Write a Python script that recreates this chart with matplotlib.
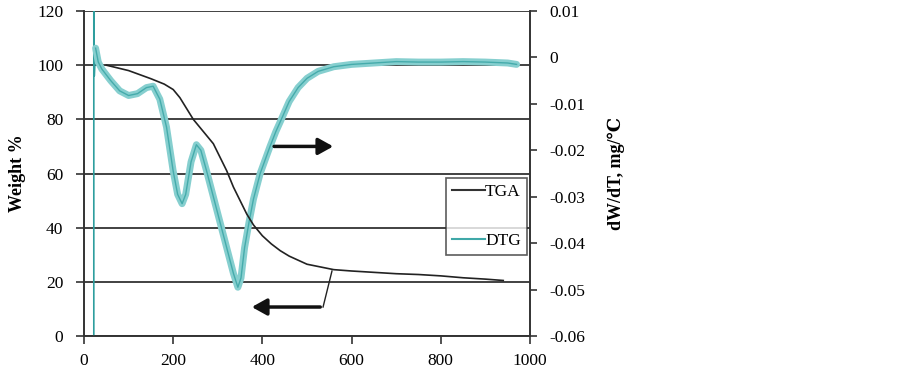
import matplotlib
matplotlib.use("Agg")
import matplotlib.pyplot as plt
from matplotlib.lines import Line2D

plt.rcParams['font.family'] = ['Liberation Serif', 'DejaVu Serif', 'DejaVu Sans']

# TGA curve (Weight %, left axis)
tga_temp = [50, 100, 150, 180, 200, 215, 230, 245, 260, 275, 290, 305, 320, 335, 350,
            365, 380, 400, 420, 440, 460, 480, 500, 530, 560, 600, 650, 700, 750, 800,
            850, 900, 940]
tga_weight = [100, 98, 95, 93, 91, 88, 84, 80, 77, 74, 71, 66, 61, 55, 50,
              45, 41, 37, 34, 31.5, 29.5, 28, 26.5, 25.5, 24.5, 24, 23.5, 23, 22.7, 22.2,
              21.5, 21, 20.5]

# DTG spike at the start (dW/dT, mg/°C, right axis)
spike_temp = [22, 22, 23, 26]
spike_value = [-0.060, 0.010, -0.004, 0.0020]

# DTG curve (dW/dT, mg/°C, right axis)
dtg_temp = [26, 32, 40, 60, 80, 100, 120, 140, 155, 170, 185, 200, 210,
            220, 228, 240, 252, 262, 275, 290, 305, 320, 335, 345, 352, 360, 370, 380,
            395, 417, 430, 444, 460, 480, 500, 525, 560, 600, 650, 700, 750, 800,
            850, 900, 950, 970]
dtg_value = [0.0020, -0.0010, -0.0025, -0.0050, -0.0072, -0.0082,
             -0.0078, -0.0065, -0.0062, -0.0090, -0.0150, -0.0245, -0.0295,
             -0.0315, -0.0295, -0.0225, -0.0188, -0.0200, -0.0245, -0.0300, -0.0355,
             -0.0410, -0.0465, -0.0495, -0.0475, -0.0410, -0.0355, -0.0305,
             -0.0250, -0.0192, -0.0160, -0.0130, -0.0095, -0.0065, -0.0045, -0.0030,
             -0.0020, -0.0015, -0.0012, -0.0009, -0.0010, -0.0010, -0.0009, -0.0010,
             -0.0012, -0.0015]

x_ticks = [0, 200, 400, 600, 800, 1000]
left_ticks = [0, 20, 40, 60, 80, 100, 120]
right_ticks = [0.01, 0, -0.01, -0.02, -0.03, -0.04, -0.05, -0.06]
right_labels = ['0.01', '0', '-0.01', '-0.02', '-0.03', '-0.04', '-0.05', '-0.06']

fig = plt.figure(figsize=(9.03, 3.70), dpi=100)
ax = fig.add_axes([84/903, 1-336/370, (530-84)/903, (336-11)/370])
ax2 = ax.twinx()

ax.set_xlim(0, 1000)
ax.set_ylim(0, 120)
ax2.set_ylim(-0.06, 0.01)

ax.set_yticks(left_ticks)
ax.set_xticks(x_ticks)
ax2.set_yticks(right_ticks)
ax2.set_yticklabels(right_labels)

for a in (ax, ax2):
    for s in a.spines.values():
        s.set_color('#333333')
        s.set_linewidth(1.2)
    a.spines['top'].set_visible(False)
ax.grid(axis='y', color='#333333', linewidth=1.3)
ax.set_axisbelow(True)
ax.tick_params(axis='y', labelsize=12.5, color='#333333', length=6, width=1.2, pad=9)
ax.tick_params(axis='x', labelsize=12.5, color='#333333', length=6, width=1.2, pad=6)
ax2.tick_params(axis='y', labelsize=12.5, color='#333333', length=5, width=1.2, pad=9)

ax2.set_zorder(ax.get_zorder() + 1)

# DTG spike and band (on right axis)
ax2.plot(spike_temp, spike_value, color='#2E9E9E', linewidth=1.2)
ax2.plot(dtg_temp, dtg_value, color='#86CFCF', linewidth=5, solid_joinstyle='round',
         solid_capstyle='round')
ax2.plot(dtg_temp, dtg_value, color='#45ABAB', linewidth=1.0)

# TGA drawn in left-axis data coordinates
ax2.plot(tga_temp, tga_weight, color='#222222', linewidth=1.2, transform=ax.transData)

# arrows
ax2.annotate('', xy=(565, 70), xytext=(420, 70), xycoords=ax.transData, textcoords=ax.transData,
             arrowprops=dict(arrowstyle='-|>,head_width=0.5,head_length=0.9', color='#111111', lw=2.5))
ax2.annotate('', xy=(370, 10.7), xytext=(536, 10.7), xycoords=ax.transData, textcoords=ax.transData,
             arrowprops=dict(arrowstyle='-|>,head_width=0.5,head_length=0.9', color='#111111', lw=2.5))
ax2.plot([536, 556], [10.7, 24], color='#222222', linewidth=1.0, transform=ax.transData)

ax.set_ylabel('Weight %', fontsize=13, fontweight='bold', labelpad=8)
ax2.set_ylabel('dW/dT, mg/℃', fontsize=13, fontweight='bold', labelpad=16)

handles = [Line2D([], [], color='#333333', lw=1.5), Line2D([], [], color='#3FA8A8', lw=1.5)]
leg = ax2.legend(handles, ['TGA', 'DTG'], loc='center',
                 bbox_to_anchor=((446-84)/446, (336-258)/325, (527-446)/446, (258-175)/325),
                 mode='expand', fontsize=12.5, frameon=True, fancybox=False, borderaxespad=0,
                 handlelength=1.9, handletextpad=0.0, labelspacing=1.9, borderpad=0.35)
leg.get_frame().set_edgecolor('#333333')
leg.get_frame().set_linewidth(1.2)

fig.savefig('out.png', dpi=100)
